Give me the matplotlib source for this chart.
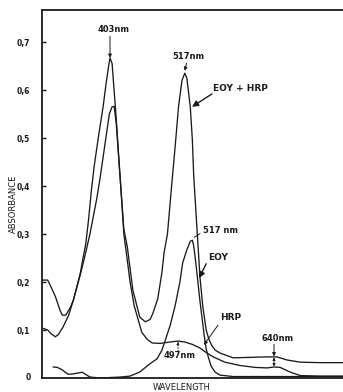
import matplotlib
matplotlib.use("Agg")
import matplotlib.pyplot as plt

plt.rcParams['font.family'] = ['Liberation Sans Narrow', 'DejaVu Sans']

# spectra (wavelength in nm, absorbance)
mix_nm = [305, 313, 316, 324, 331, 334, 339, 345, 350, 355, 360, 364, 368, 372, 376,
          380, 386, 393, 397, 401, 403, 406, 412, 417, 423, 428, 436, 446, 454, 461,
          465, 472, 478, 481, 486, 492, 497, 502, 507, 511, 514, 519, 522, 524, 527,
          530, 533, 537, 542, 546, 550, 555, 562, 581, 605, 630, 644, 659, 678, 706,
          740]
mix_abs = [0.204, 0.204, 0.195, 0.17, 0.14, 0.131, 0.131, 0.145, 0.162, 0.19, 0.218,
           0.25, 0.28, 0.33, 0.39, 0.44, 0.50, 0.565, 0.61, 0.65, 0.667, 0.655, 0.54,
           0.43, 0.31, 0.273, 0.183, 0.127, 0.117, 0.122, 0.135, 0.165, 0.22, 0.26,
           0.30, 0.40, 0.48, 0.565, 0.62, 0.635, 0.625, 0.565, 0.496, 0.42, 0.35,
           0.28, 0.21, 0.15, 0.10, 0.08, 0.068, 0.058, 0.052, 0.042, 0.043, 0.044,
           0.044, 0.0375, 0.033, 0.032, 0.032]

hrp_nm = [305, 313, 318, 324, 328, 335, 343, 350, 360, 366, 370, 374, 378, 384, 389,
          396, 402, 406, 409, 412, 418, 423, 428, 432, 438, 444, 449, 457, 464, 475,
          490, 501, 511, 522, 533, 540, 552, 569, 591, 613, 630, 640, 649, 663, 678,
          706, 740]
hrp_abs = [0.104, 0.10, 0.092, 0.086, 0.09, 0.106, 0.13, 0.162, 0.215, 0.25, 0.275,
           0.30, 0.33, 0.375, 0.42, 0.49, 0.55, 0.565, 0.566, 0.53, 0.41, 0.30, 0.245,
           0.20, 0.15, 0.12, 0.095, 0.08, 0.073, 0.072, 0.075, 0.077, 0.075, 0.07,
           0.0625, 0.055, 0.044, 0.033, 0.026, 0.022, 0.021, 0.023, 0.022, 0.0125,
           0.005, 0.004, 0.004]

eoy_nm = [321, 327, 334, 342, 348, 355, 363, 367, 374, 389, 418, 432, 446, 461, 471,
          478, 482, 490, 497, 504, 508, 514, 519, 522, 524, 527, 530, 533, 536, 539,
          542, 545, 549, 555, 562, 581, 649, 740]
eoy_abs = [0.023, 0.022, 0.017, 0.008, 0.008, 0.010, 0.012, 0.008, 0.002, 0.0, 0.002,
           0.004, 0.0125, 0.03, 0.04, 0.058, 0.075, 0.11, 0.15, 0.20, 0.24, 0.267,
           0.285, 0.287, 0.275, 0.24, 0.20, 0.16, 0.125, 0.09, 0.06, 0.044, 0.025,
           0.012, 0.006, 0.003, 0.003, 0.003]

yticks = [0.1, 0.2, 0.3, 0.4, 0.5, 0.6, 0.7]
ytick_labels = ['0,1', '0,2', '0,3', '0,4', '0,5', '0,6', '0,7']

ink = '#1a1a1a'
fig = plt.figure(figsize=(3.43, 3.92), dpi=100)
ax = fig.add_axes([42 / 343, 14 / 392, 301 / 343, 368 / 392])

for xs, ys in [(mix_nm, mix_abs), (hrp_nm, hrp_abs), (eoy_nm, eoy_abs)]:
    ax.plot(xs, ys, color=ink, lw=0.95, solid_joinstyle='round')

ax.set_xlim(304.7, 739.7)
ax.set_ylim(0, 0.7667)
ax.set_xticks([])
ax.set_yticks(yticks)
ax.set_yticklabels(ytick_labels)
ax.tick_params(axis='y', direction='in', length=3, width=1, pad=8.5,
               labelsize=5.5, colors=ink)
for lab in ax.get_yticklabels():
    lab.set_fontweight('bold')
ax.text(-0.038, 0.0, '0', transform=ax.transAxes, ha='right', va='center',
        fontsize=5.5, fontweight='bold', color=ink)

ax.spines['right'].set_visible(False)
for s in ['left', 'bottom', 'top']:
    ax.spines[s].set_linewidth(1.3)
    ax.spines[s].set_color(ink)

fig.text(13 / 343, 1 - 204 / 392, 'ABSORBANCE', rotation=90, ha='center',
         va='center', fontsize=6, color=ink)
fig.text(182 / 343, 1 - 388 / 392, 'WAVELENGTH', ha='center', va='center',
         fontsize=6, color=ink)

lab = dict(fontsize=6, fontweight='bold', color=ink)
thin = dict(arrowstyle='-|>', color=ink, lw=0.7, mutation_scale=5,
            shrinkA=0, shrinkB=0)
fat = dict(arrowstyle='-|>', color=ink, lw=1.0, mutation_scale=9,
           shrinkA=0, shrinkB=0)

# peak labels
ax.annotate('', xy=(403, 0.667), xytext=(403, 0.712), arrowprops=thin)
ax.text(408.7, 0.727, '403nm', ha='center', va='center', **lab)

ax.annotate('', xy=(511, 0.64), xytext=(513.5, 0.656), arrowprops=thin)
ax.text(515.7, 0.669, '517nm', ha='center', va='center', **lab)

ax.annotate('', xy=(521.5, 0.565), xytext=(550.4, 0.592), arrowprops=fat)
ax.text(551.8, 0.604, 'EOY + HRP', ha='left', va='center', fontsize=6.5,
        fontweight='bold', color=ink)

ax.annotate('', xy=(521.5, 0.29), xytext=(536.5, 0.304),
            arrowprops=dict(arrowstyle='-', color=ink, lw=0.7))
ax.text(537.4, 0.308, '517 nm', ha='left', va='center', **lab)

ax.annotate('', xy=(531.6, 0.208), xytext=(542, 0.238), arrowprops=fat)
ax.text(544.6, 0.252, 'EOY', ha='left', va='center', fontsize=6.5,
        fontweight='bold', color=ink)

ax.annotate('', xy=(538.8, 0.069), xytext=(559, 0.11), arrowprops=thin)
ax.text(562, 0.127, 'HRP', ha='left', va='center', fontsize=6.5,
        fontweight='bold', color=ink)

ax.annotate('', xy=(501.3, 0.076), xytext=(501.3, 0.056),
            arrowprops=dict(arrowstyle='-|>', color=ink, lw=0.7, ls=':',
                            mutation_scale=4, shrinkA=0, shrinkB=0))
ax.text(504, 0.046, '497nm', ha='center', va='center', **lab)

ax.annotate('', xy=(640, 0.045), xytext=(640, 0.07), arrowprops=thin)
ax.annotate('', xy=(640, 0.024), xytext=(640, 0.043),
            arrowprops=dict(arrowstyle='<|-|>', color=ink, lw=0.6,
                            mutation_scale=4, shrinkA=0, shrinkB=0))
ax.text(645.7, 0.083, '640nm', ha='center', va='center', **lab)

fig.savefig('out.png', dpi=100)
